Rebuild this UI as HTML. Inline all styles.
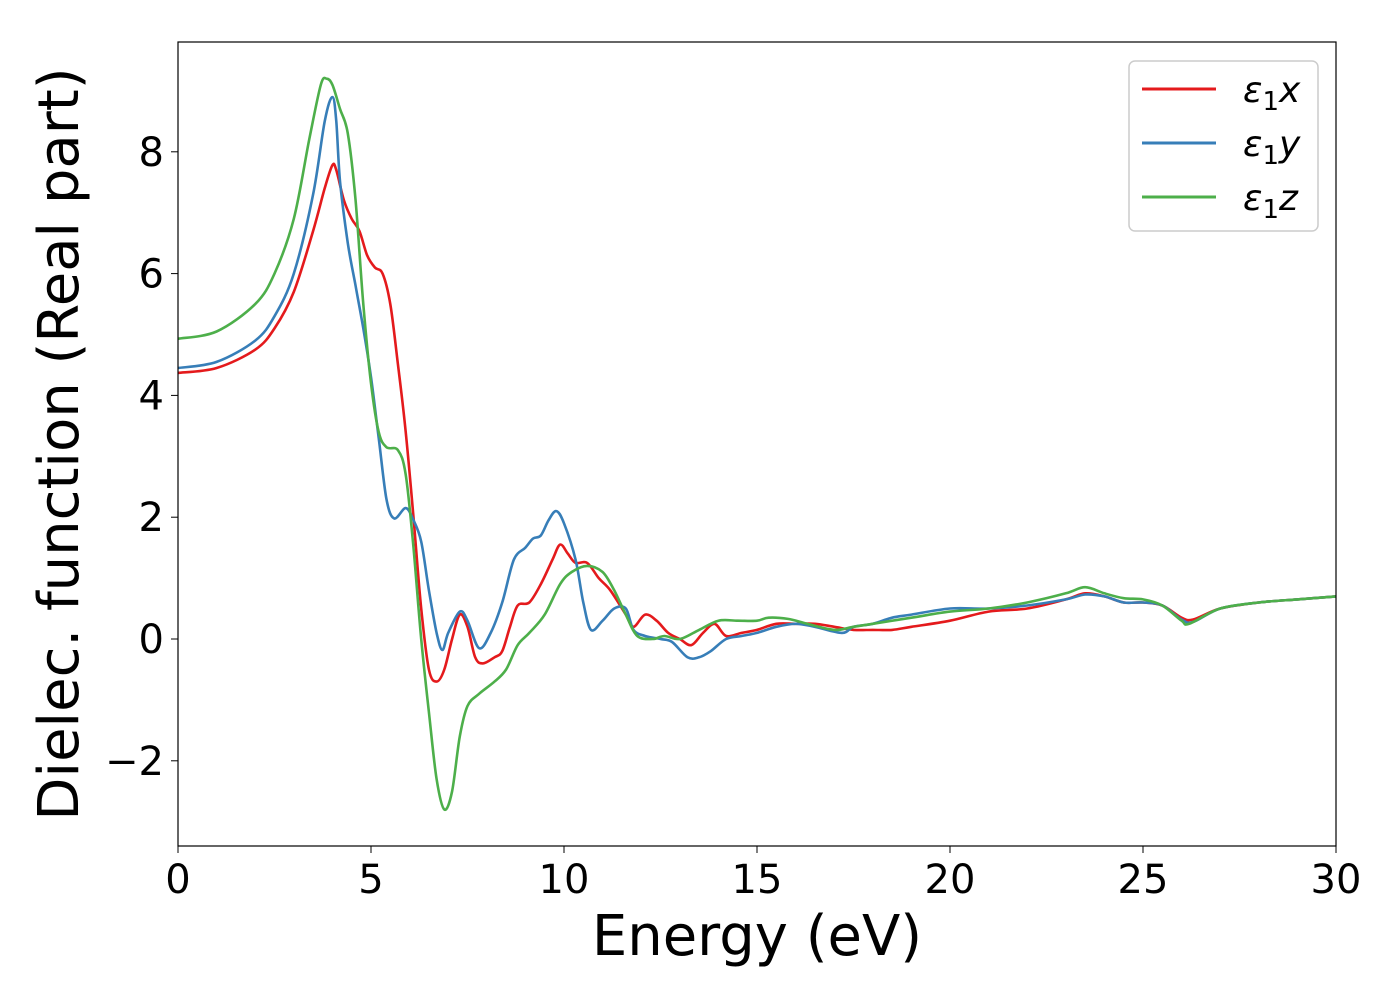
<!DOCTYPE html>
<html><head><meta charset="utf-8"><style>
body{margin:0;background:#fff;}
svg text{font-family:"DejaVu Sans","Liberation Sans",sans-serif;fill:#000;}
</style></head><body>
<svg id="chart" width="1400" height="1000" viewBox="0 0 1400 1000" xmlns="http://www.w3.org/2000/svg">
<g id="ticks"></g>
<g id="series"></g>
<rect x="178" y="42" width="1158" height="804" fill="none" stroke="#000" stroke-width="1.2"/>
<text x="757" y="955" font-size="56" text-anchor="middle">Energy (eV)</text>
<text transform="translate(78,444) rotate(-90)" font-size="56" text-anchor="middle">Dielec. function (Real part)</text>
<g>
<rect x="1129" y="61" width="189" height="170" rx="6" fill="#fff" stroke="#ccc" stroke-width="1.5"/>
<line x1="1142" y1="89" x2="1216" y2="89" stroke="#e41a1c" stroke-width="3"/>
<line x1="1142" y1="143" x2="1216" y2="143" stroke="#377eb8" stroke-width="3"/>
<line x1="1142" y1="197" x2="1216" y2="197" stroke="#4daf4a" stroke-width="3"/>
<text x="1243" y="102" font-size="36" font-style="italic">ε<tspan font-style="normal" font-size="26" dy="8">1</tspan><tspan dy="-8">x</tspan></text>
<text x="1243" y="156" font-size="36" font-style="italic">ε<tspan font-style="normal" font-size="26" dy="8">1</tspan><tspan dy="-8">y</tspan></text>
<text x="1243" y="210" font-size="36" font-style="italic">ε<tspan font-style="normal" font-size="26" dy="8">1</tspan><tspan dy="-8">z</tspan></text>
</g>
</svg>
<script>
const xTicks=[0,5,10,15,20,25,30];
const yTicks=[-2,0,2,4,6,8];
const eX=[0,1,2,2.5,3,3.5,3.8,4.0,4.1,4.3,4.5,4.7,4.9,5.1,5.3,5.5,5.7,5.9,6.1,6.3,6.5,6.7,6.9,7.1,7.3,7.5,7.7,7.9,8.2,8.4,8.6,8.8,9.1,9.4,9.7,9.9,10.1,10.3,10.6,10.9,11.2,11.6,11.8,12.1,12.4,12.7,13.0,13.3,13.6,13.9,14.2,14.6,15,15.5,16,16.5,17,17.5,18,18.5,19,20,21,22,23,23.5,24,24.5,25,25.5,26,26.3,27,28,29,30];
const vX=[4.37,4.45,4.75,5.1,5.7,6.7,7.4,7.78,7.7,7.2,6.9,6.7,6.3,6.1,6.0,5.5,4.5,3.4,2.0,0.5,-0.5,-0.7,-0.5,0,0.4,0.2,-0.3,-0.4,-0.3,-0.2,0.2,0.55,0.6,0.9,1.3,1.55,1.4,1.25,1.25,1.0,0.8,0.4,0.2,0.4,0.3,0.1,0,-0.1,0.1,0.25,0.05,0.1,0.15,0.25,0.25,0.25,0.2,0.15,0.15,0.15,0.2,0.3,0.45,0.5,0.65,0.75,0.7,0.6,0.6,0.55,0.35,0.32,0.5,0.6,0.65,0.7];
const eY=[0,1,2,2.5,3,3.5,3.8,4.0,4.1,4.2,4.4,4.6,4.8,5.0,5.2,5.4,5.6,5.9,6.1,6.3,6.5,6.7,6.85,7.0,7.3,7.5,7.8,8.1,8.4,8.7,9.0,9.2,9.4,9.6,9.8,10.0,10.3,10.5,10.7,11.0,11.3,11.6,11.8,12.1,12.5,12.8,13.2,13.5,13.8,14.2,14.6,15,15.5,16,16.5,17.2,17.5,18,18.5,19,20,21,22,23,23.5,24,24.5,25,25.5,26,26.3,27,28,29,30];
const vY=[4.45,4.55,4.9,5.3,6.0,7.3,8.5,8.9,8.5,7.5,6.5,5.8,5.1,4.3,3.3,2.3,1.98,2.15,1.95,1.6,0.8,0.1,-0.18,0.1,0.45,0.3,-0.15,0.1,0.6,1.3,1.5,1.65,1.7,1.95,2.1,1.9,1.3,0.6,0.15,0.3,0.5,0.5,0.15,0.05,0,-0.05,-0.3,-0.3,-0.2,0.0,0.05,0.1,0.2,0.25,0.2,0.1,0.2,0.25,0.35,0.4,0.5,0.5,0.55,0.65,0.73,0.7,0.6,0.6,0.55,0.32,0.28,0.5,0.6,0.65,0.7];
const eZ=[0,1,2,2.5,3,3.4,3.7,3.85,4.0,4.2,4.4,4.6,4.8,5.0,5.2,5.4,5.7,5.9,6.1,6.3,6.5,6.7,6.9,7.1,7.3,7.5,7.8,8.2,8.5,8.8,9.1,9.5,9.9,10.2,10.6,11.0,11.3,11.6,11.9,12.3,12.6,13.0,13.5,14,14.5,15,15.3,15.8,16.3,17,17.5,18,19,20,21,22,23,23.5,24,24.5,25,25.5,26,26.2,27,28,29,30];
const vZ=[4.93,5.05,5.5,6.0,6.9,8.2,9.1,9.2,9.1,8.7,8.3,7.2,5.5,4.2,3.4,3.15,3.1,2.7,1.5,0.0,-1.2,-2.3,-2.8,-2.5,-1.6,-1.1,-0.9,-0.7,-0.5,-0.1,0.1,0.4,0.9,1.1,1.2,1.1,0.8,0.4,0.05,0.0,0.05,0.0,0.15,0.3,0.3,0.3,0.35,0.33,0.25,0.15,0.2,0.25,0.35,0.45,0.5,0.6,0.75,0.85,0.75,0.67,0.65,0.55,0.3,0.25,0.5,0.6,0.65,0.7];

const X0=178,X1=1336,Y0=639,YS=60.9;
function xs(e){return X0+(X1-X0)*e/30;}
function ys(v){return Y0-YS*v;}
const NS="http://www.w3.org/2000/svg";
const tg=document.getElementById('ticks');
xTicks.forEach(t=>{
  const l=document.createElementNS(NS,'line');
  
  
  l.setAttribute('x1',xs(t));l.setAttribute('x2',xs(t));l.setAttribute('y1',846);l.setAttribute('y2',853);l.setAttribute('stroke','#000');
  tg.appendChild(l);
  const tx=document.createElementNS(NS,'text');
  
  
  tx.setAttribute('x',xs(t));tx.setAttribute('y',893);tx.setAttribute('font-size','40');tx.setAttribute('text-anchor','middle');
  tx.textContent=t;tg.appendChild(tx);
});
yTicks.forEach(t=>{
  const l=document.createElementNS(NS,'line');
  
  
  l.setAttribute('x1',171);l.setAttribute('x2',178);l.setAttribute('y1',ys(t));l.setAttribute('y2',ys(t));l.setAttribute('stroke','#000');
  tg.appendChild(l);
  const tx=document.createElementNS(NS,'text');
  
  
  tx.setAttribute('x',164);tx.setAttribute('y',ys(t)+14);tx.setAttribute('font-size','40');tx.setAttribute('text-anchor','end');
  tx.textContent=t<0?'\u2212'+Math.abs(t):String(t);tg.appendChild(tx);
});
function pathD(E,V){
  const p=E.map((e,i)=>[xs(e),ys(V[i])]);
  let d='M'+p[0][0].toFixed(1)+','+p[0][1].toFixed(1);
  for(let i=0;i<p.length-1;i++){
    const a=p[Math.max(0,i-1)],b=p[i],c=p[i+1],n=p[Math.min(p.length-1,i+2)];
    const c1=[b[0]+(c[0]-a[0])/6,b[1]+(c[1]-a[1])/6],c2=[c[0]-(n[0]-b[0])/6,c[1]-(n[1]-b[1])/6];
    d+=' C'+c1[0].toFixed(1)+','+c1[1].toFixed(1)+' '+c2[0].toFixed(1)+','+c2[1].toFixed(1)+' '+c[0].toFixed(1)+','+c[1].toFixed(1);
  }
  return d;
}
const sg=document.getElementById('series');
[[eX,vX,'#e41a1c','series-eps1-x'],[eY,vY,'#377eb8','series-eps1-y'],[eZ,vZ,'#4daf4a','series-eps1-z']].forEach(s=>{
  const p=document.createElementNS(NS,'path');
  
  
  p.setAttribute('d',pathD(s[0],s[1]));p.setAttribute('fill','none');p.setAttribute('stroke',s[2]);p.setAttribute('stroke-width','2.6');
  sg.appendChild(p);
});
</script>
</body></html>
